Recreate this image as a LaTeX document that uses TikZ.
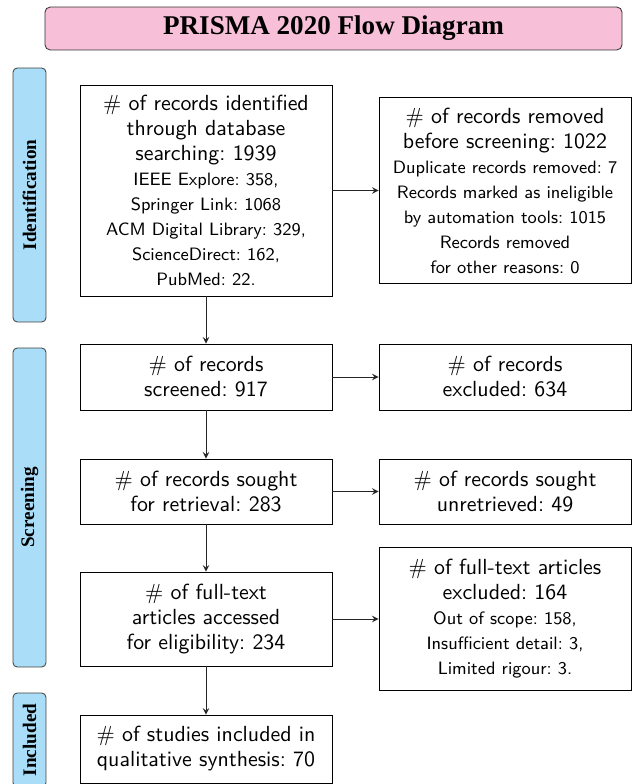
\documentclass[tikz,border=0pt]{standalone}
\usepackage{fontspec}
\newfontfamily\headfont{Liberation Serif}
\usetikzlibrary{arrows}

\definecolor{titlepink}{RGB}{247,192,216}
\definecolor{phaseblue}{RGB}{170,221,247}

\newcommand{\subtxt}[1]{{\fontsize{8.6}{12}\selectfont #1}}

\tikzset{
  flowbox/.style={draw, rectangle, align=center, minimum width=121pt, inner sep=3pt,
    font=\sffamily\frenchspacing\fontsize{10.5}{12}\selectfont},
  phase/.style={draw=black!75, fill=phaseblue, rounded corners=2pt, rotate=90,
    minimum height=15.8pt, inner sep=0pt, font=\headfont\bfseries\fontsize{9.2}{11}\selectfont},
  banner/.style={draw=black!80, fill=titlepink, rounded corners=2.5pt,
    minimum width=277pt, minimum height=20.6pt, font=\headfont\bfseries\fontsize{13}{15}\selectfont},
  flow/.style={-stealth, black!85}
}

\begin{document}
\begin{tikzpicture}[x=0.48pt, y=-0.48pt]
\useasboundingbox (0,0) rectangle (632,784);

\node [banner] (title) at (333.5,28.5) {PRISMA 2020 Flow Diagram};

% phases on the left
\node [phase, minimum width=121.9pt] (identification) at (29.5,195)   {Identification};
\node [phase, minimum width=153.1pt] (screening)      at (29.5,507.5) {Screening};
\node [phase, minimum width=45.1pt]  (included)       at (29.5,740)   {Included};

% main column
\node [flowbox, minimum height=101.3pt] (identified) at (206,190.5)
  {\# of records identified\\through database\\searching: 1939\\
   \subtxt{IEEE Explore: 358,}\\\subtxt{Springer Link: 1068}\\
   \subtxt{ACM Digital Library: 329,}\\\subtxt{ScienceDirect: 162,}\\\subtxt{PubMed: 22.}};
\node [flowbox, minimum height=31.7pt] (screened) at (206,377)
  {\# of records\\screened: 917};
\node [flowbox, minimum height=31.2pt] (sought) at (206,491.5)
  {\# of records sought\\for retrieval: 283};
\node [flowbox, minimum height=45.1pt] (assessed) at (206,619)
  {\# of full-text\\articles accessed\\for eligibility: 234};
\node [flowbox, minimum height=32.6pt] (studies) at (206,749)
  {\# of studies included in\\qualitative synthesis: 70};

% right column
\node [flowbox, minimum height=89.3pt] (removed) at (505,190.5)
  {\# of records removed\\before screening: 1022\\
   \subtxt{Duplicate records removed: 7}\\\subtxt{Records marked as ineligible}\\
   \subtxt{by automation tools: 1015}\\\subtxt{Records removed}\\\subtxt{for other reasons: 0}};
\node [flowbox, minimum height=31.7pt] (excluded) at (505,377)
  {\# of records\\excluded: 634};
\node [flowbox, minimum height=31.2pt] (unretrieved) at (505,491.5)
  {\# of records sought\\unretrieved: 49};
\node [flowbox, minimum height=68.6pt] (ftexcluded) at (505,619)
  {\# of full-text articles\\excluded: 164\\
   \subtxt{Out of scope: 158,}\\\subtxt{Insufficient detail: 3,}\\\subtxt{Limited rigour: 3.}};

\draw [flow] (identified) -- (screened);
\draw [flow] (screened) -- (sought);
\draw [flow] (sought) -- (assessed);
\draw [flow] (assessed) -- (studies);

\draw [flow] (identified) -- (removed);
\draw [flow] (screened) -- (excluded);
\draw [flow] (sought) -- (unretrieved);
\draw [flow] (assessed) -- (ftexcluded);
\end{tikzpicture}
\end{document}
